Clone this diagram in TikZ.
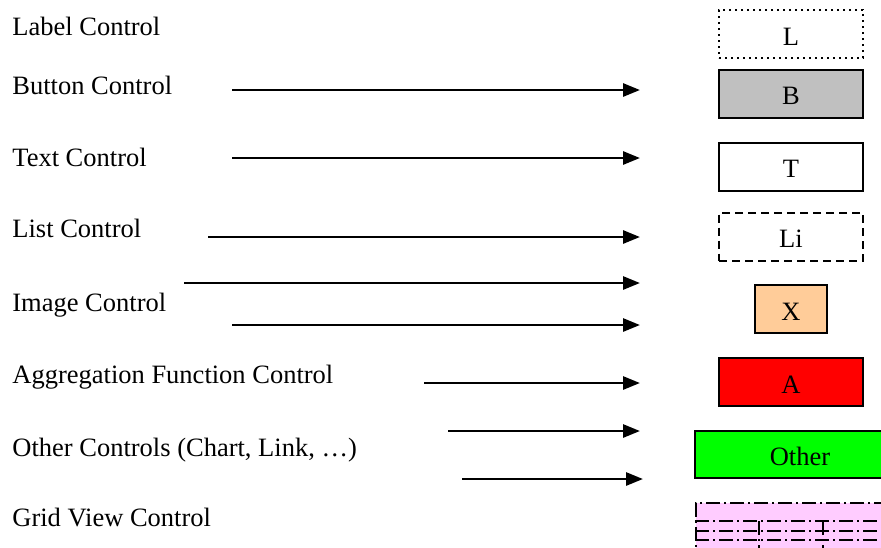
\documentclass[tikz,border=0pt]{standalone}
\usepackage{fontspec}
\setmainfont{Liberation Serif}
\usetikzlibrary{arrows.meta}
\definecolor{btngray}{HTML}{C0C0C0}
\definecolor{imgpeach}{HTML}{FFCC99}
\definecolor{aggred}{HTML}{FF0000}
\definecolor{othgreen}{HTML}{00FF00}
\definecolor{gridpink}{HTML}{FFCCFF}
\begin{document}
\begin{tikzpicture}[x=0.5pt, y=-0.5pt, font=\fontsize{13.25}{16}\selectfont,
	ctrl/.style={anchor=base west, inner sep=0pt},
	ctrlbox/.style={shape=rectangle, draw, line width=1pt, minimum width=72pt, minimum height=24pt, inner sep=0pt, text height=11pt, text depth=0pt},
	feed/.style={line width=1.4pt, -{Triangle[length=8.5pt, width=6.5pt]}},
	dashdot/.style={dash pattern=on 7pt off 2pt on 1pt off 2pt}]
	\useasboundingbox (0,0) rectangle (881,547);
	\clip (0,0) rectangle (881,547);
	% control names
	\node[ctrl] (lblname) at (12, 35) {Label Control};
	\node[ctrl] (btnname) at (12, 94) {Button Control};
	\node[ctrl] (txtname) at (12, 166) {Text Control};
	\node[ctrl] (lstname) at (12, 237) {List Control};
	\node[ctrl] (imgname) at (12, 311) {Image Control};
	\node[ctrl] (aggname) at (12, 383) {Aggregation Function Control};
	\node[ctrl] (othname) at (12, 456) {Other Controls (Chart, Link, \textellipsis)};
	\node[ctrl] (grdname) at (12, 526) {Grid View Control};
	% symbol boxes
	\node[ctrlbox, dotted, line width=0.8pt] (lbl) at (791, 34) {L};
	\node[ctrlbox, fill=btngray] (btn) at (791, 93.5) {B};
	\node[ctrlbox] (txt) at (791, 166.5) {T};
	\node[ctrlbox, dash pattern=on 4pt off 2.5pt] (lst) at (791, 236.5) {Li};
	\node[ctrlbox, fill=imgpeach, minimum width=36pt] (img) at (791, 309) {X};
	\node[ctrlbox, fill=aggred] (agg) at (791, 382) {A};
	\node[ctrlbox, fill=othgreen, minimum width=105pt, minimum height=23.5pt] (oth) at (800, 454.5) {Other};
	\node[shape=rectangle, draw, line width=1pt, dashdot, fill=gridpink, anchor=north west, minimum width=105pt, minimum height=30pt] (grd) at (695, 502) {};
	\draw[line width=1.1pt, dashdot] (695, 521) -- (905, 521) (695, 531) -- (905, 531) (695, 540) -- (905, 540);
	\draw[line width=0.6pt, dashdot] (759, 521) -- (759, 560) (823, 521) -- (823, 560);
	% arrow ends
	\coordinate (btnA) at (232, 90);
	\coordinate (btnB) at (640, 90);
	\coordinate (txtA) at (232, 158);
	\coordinate (txtB) at (640, 158);
	\coordinate (lstA) at (208, 237);
	\coordinate (lstB) at (640, 237);
	\coordinate (imgA) at (184, 283);
	\coordinate (imgB) at (640, 283);
	\coordinate (imgC) at (232, 325);
	\coordinate (imgD) at (640, 325);
	\coordinate (aggA) at (424, 383);
	\coordinate (aggB) at (640, 383);
	\coordinate (othA) at (448, 431);
	\coordinate (othB) at (640, 431);
	\coordinate (othC) at (462, 479);
	\coordinate (othD) at (643, 479);
	\draw[feed] (btnA) -- (btnB);
	\draw[feed] (txtA) -- (txtB);
	\draw[feed] (lstA) -- (lstB);
	\draw[feed] (imgA) -- (imgB);
	\draw[feed] (imgC) -- (imgD);
	\draw[feed] (aggA) -- (aggB);
	\draw[feed] (othA) -- (othB);
	\draw[feed] (othC) -- (othD);
\end{tikzpicture}
\end{document}
